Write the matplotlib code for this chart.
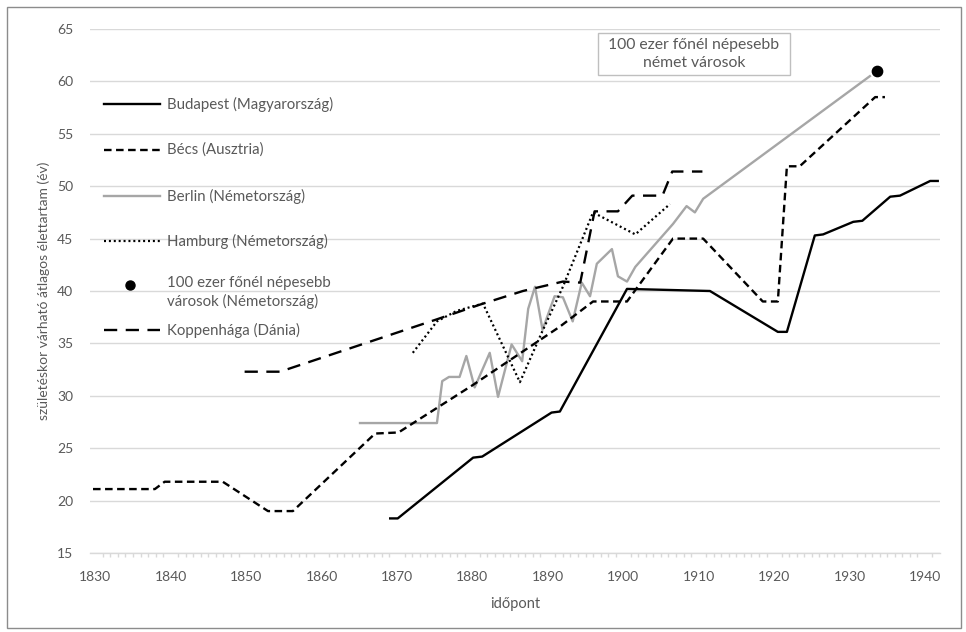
"""
Várható élettartam születéskor - Budapest és más közép-európai városok, 1830-1940
"""

import matplotlib
matplotlib.use("Agg")
import matplotlib.pyplot as plt
from matplotlib.lines import Line2D
from matplotlib.patches import Rectangle

# ---------------------------------------------------------------------------
# Data
# ---------------------------------------------------------------------------

budapest_years = [1869.1, 1870.1, 1880.1, 1881.3, 1890.5, 1891.6, 1900.5, 1911.5,
                  1920.5, 1921.7, 1925.4, 1926.5, 1930.5, 1931.7, 1935.4, 1936.7,
                  1940.7, 1941.7]
budapest_e0 = [18.3, 18.3, 24.1, 24.2, 28.4, 28.5, 40.2, 40.0,
               36.1, 36.1, 45.3, 45.4, 46.6, 46.7, 49.0, 49.1,
               50.5, 50.5]

vienna_years = [1829.7, 1837.9, 1839.2, 1846.9, 1852.9, 1856.2, 1867.1, 1870.2,
                1880.0, 1891.6, 1896.0, 1900.5, 1906.6, 1910.6, 1918.5, 1920.5,
                1921.7, 1923.4, 1933.4, 1934.7]
vienna_e0 = [21.1, 21.1, 21.8, 21.8, 19.0, 19.0, 26.4, 26.5,
             31.0, 36.6, 39.0, 39.0, 45.0, 45.0, 39.0, 39.0,
             51.9, 51.9, 58.5, 58.5]

berlin_years = [1865.1, 1875.3, 1876.0, 1876.9, 1878.3, 1879.2, 1880.3, 1882.3,
                1883.4, 1885.2, 1886.6, 1887.4, 1888.3, 1889.3, 1890.9, 1892.0,
                1893.3, 1894.5, 1895.6, 1896.5, 1898.5, 1899.3, 1900.5, 1901.6,
                1906.6, 1908.4, 1909.5, 1910.6, 1932.7]
berlin_e0 = [27.4, 27.4, 31.4, 31.8, 31.8, 33.8, 30.8, 34.1,
             29.9, 34.9, 33.3, 38.3, 40.4, 36.3, 39.5, 39.4,
             37.1, 40.8, 39.5, 42.6, 44.0, 41.4, 40.9, 42.3,
             46.4, 48.1, 47.5, 48.8, 60.5]

hamburg_years = [1872.1, 1875.3, 1877.9, 1881.4, 1886.3, 1889.3, 1892.0, 1896.0,
                 1901.6, 1906.2]
hamburg_e0 = [34.1, 37.1, 38.1, 38.8, 31.3, 36.2, 40.4, 47.5, 45.4, 48.3]

german_cities_year = [1933.6]
german_cities_e0 = [61.0]

copenhagen_years = [1849.8, 1854.5, 1875.3, 1881.0, 1886.7, 1892.0, 1894.3, 1896.2,
                    1899.3, 1901.2, 1905.2, 1906.5, 1910.5]
copenhagen_e0 = [32.3, 32.3, 37.3, 38.7, 40.0, 40.9, 40.8, 47.6,
                 47.6, 49.1, 49.1, 51.4, 51.4]

x_ticks = list(range(1830, 1941, 10))
y_ticks = list(range(15, 66, 5))

labels = [
    "Budapest (Magyarország)",
    "Bécs (Ausztria)",
    "Berlin (Németország)",
    "Hamburg (Németország)",
    "100 ezer főnél népesebb\nvárosok (Németország)",
    "Koppenhága (Dánia)",
]

# ---------------------------------------------------------------------------
# Styles
# ---------------------------------------------------------------------------

plt.rcParams["font.family"] = ["Lato", "DejaVu Sans"]
TXT = "#595959"
GRID = "#D9D9D9"
BERLIN_GRAY = "#A6A6A6"

styles = [
    dict(color="black", lw=1.7, ls="-"),
    dict(color="black", lw=1.7, ls=(0, (3.2, 1.9))),
    dict(color=BERLIN_GRAY, lw=1.7, ls="-"),
    dict(color="black", lw=1.6, ls=(0, (0.9, 1.3))),
    None,
    dict(color="black", lw=1.7, ls=(0, (5.6, 3.6))),
]

W, H = 966, 632
fig = plt.figure(figsize=(W / 100, H / 100), dpi=100)
fig.patch.set_facecolor("white")

# axes: 1830 label near x=95, axis spans x=90..940, y 15..65 at 553..29
ax = fig.add_axes([90 / W, 1 - 553 / H, 850 / W, (553 - 29) / H])
ax.set_xlim(1829.3, 1942.0)
ax.set_ylim(15, 65)

ax.plot(budapest_years, budapest_e0, **styles[0], zorder=4)
ax.plot(vienna_years, vienna_e0, **styles[1], zorder=4)
ax.plot(berlin_years, berlin_e0, **styles[2], zorder=3)
ax.plot(hamburg_years, hamburg_e0, **styles[3], zorder=4)
ax.plot(copenhagen_years, copenhagen_e0, **styles[5], zorder=4)
ax.scatter(german_cities_year, german_cities_e0, s=55, color="black", zorder=5)

# grid / axes
ax.set_yticks(y_ticks)
ax.set_xticks(x_ticks)
ax.set_xticks(range(1830, 1942), minor=True)
ax.yaxis.grid(True, color=GRID, lw=1.0)
ax.set_axisbelow(True)
for s in ["top", "right", "left"]:
    ax.spines[s].set_visible(False)
ax.spines["bottom"].set_color(GRID)
ax.spines["bottom"].set_linewidth(1.0)
ax.tick_params(axis="y", length=0, pad=12, labelsize=10, labelcolor=TXT)
ax.tick_params(axis="x", which="major", length=0, pad=13, labelsize=10, labelcolor=TXT)
ax.tick_params(axis="x", which="minor", length=3, color=GRID, width=1.0)

ax.set_ylabel("születéskor várható átlagos élettartam (év)", fontsize=10, color=TXT,
              labelpad=5)
ax.set_xlabel("időpont", fontsize=10.5, color=TXT, labelpad=10)

# legend drawn by hand (Excel style, no frame)
rows_y = [104, 150, 196, 241, 285, 330]
for i, (lab, st) in enumerate(zip(labels, styles)):
    yf = 1 - rows_y[i] / H
    if st is None:
        fig.add_artist(Line2D([130 / W], [yf], marker="o", markersize=6.5,
                              color="black", ls="none"))
        fig.text(167 / W, yf + 9 / H, lab, fontsize=10.8, color=TXT, va="top",
                 linespacing=1.3)
    else:
        fig.add_artist(Line2D([104 / W, 160 / W], [yf, yf], color=st["color"],
                              lw=st["lw"], ls=st["ls"]))
        fig.text(167 / W, yf, lab, fontsize=10.8, color=TXT, va="center")

# annotation box
fig.add_artist(Rectangle((598 / W, 1 - 75 / H), 192 / W, 42 / H, fill=False,
                         ec="#BFBFBF", lw=1.0, transform=fig.transFigure))
fig.text(694 / W, 1 - 54 / H, "100 ezer főnél népesebb\nnémet városok", fontsize=11.3,
         color=TXT, ha="center", va="center", linespacing=1.3)

# outer border
fig.add_artist(Rectangle((7 / W, 4 / H), (W - 12) / W, (H - 11) / H, fill=False,
                         ec="#8C8C8C", lw=1.0, transform=fig.transFigure))

fig.savefig("out.png", dpi=100, facecolor=fig.get_facecolor())
plt.close(fig)
print("Saved out.png")
